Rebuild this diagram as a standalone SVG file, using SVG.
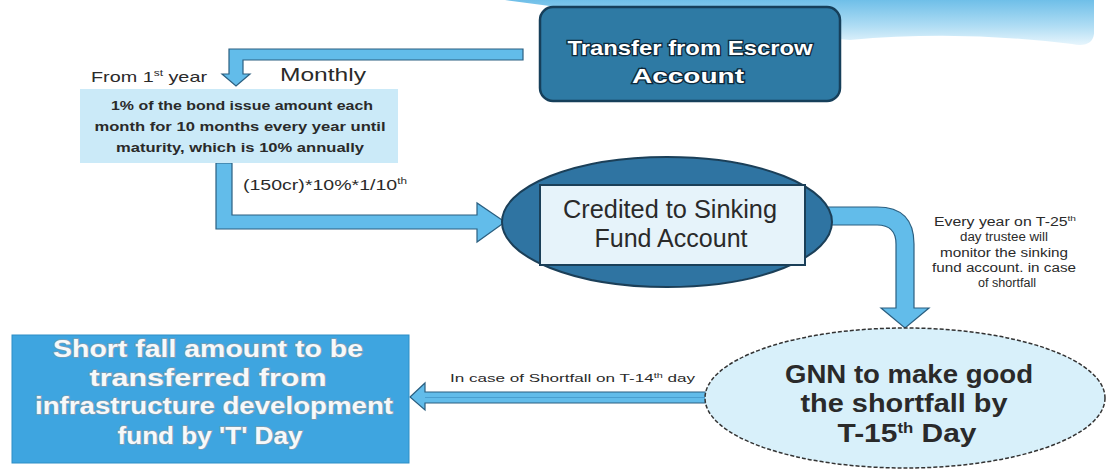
<svg xmlns="http://www.w3.org/2000/svg" width="1110" height="469" viewBox="0 0 1110 469">
<defs>
<linearGradient id="sw" x1="0" y1="0" x2="0" y2="1">
<stop offset="0" stop-color="#5fb8e6"/>
<stop offset="0.6" stop-color="#a9daf3"/>
<stop offset="1" stop-color="#e4f4fc"/>
</linearGradient>
<style>
.conn{fill:#62bcea;stroke:#2b5f80;stroke-width:1.2;stroke-linejoin:miter}
.lbl{font-family:"Liberation Sans",Arial,sans-serif;fill:#2a2a2a}
.wt{font-family:"Liberation Sans",Arial,sans-serif;font-weight:bold;text-anchor:middle}
</style>
</defs>
<rect width="1110" height="469" fill="#ffffff"/>
<!-- decorative swoosh -->
<path d="M505 0 H1094 V34 Q1092 48 1072 44 Q960 30 850 40 Q700 28 565 8 Z" fill="url(#sw)" opacity="0.9"/>

<g id="connectors">
<path class="conn" d="M523 49 H229 V74 H222 L236 86 L250 74 H243 V60 H523 Z"/>
<path class="conn" d="M216 163 V229 H477 V242 L505 222 L477 203 V215 H232 V163 Z"/>
<path class="conn" d="M820 207 H877 Q914 207 914 244 V308 H929 L905 328 L881 308 H896 V244 Q896 225 877 225 H820 Z"/>
<path class="conn" d="M715 392 H425 V383 L410 397 L425 410 V403 H715 Z"/>
<line x1="425" y1="397.5" x2="712" y2="397.5" stroke="#4a9fd0" stroke-width="1"/>
</g>

<g id="labels">
<text class="lbl" x="91" y="82" font-size="15" textLength="116" lengthAdjust="spacingAndGlyphs">From 1<tspan font-size="9" dy="-6">st</tspan><tspan dy="6"> year</tspan></text>
<text class="lbl" x="280" y="81" font-size="18" textLength="86" lengthAdjust="spacingAndGlyphs">Monthly</text>
<text class="lbl" x="243" y="190" font-size="15" textLength="164" lengthAdjust="spacingAndGlyphs">(150cr)*10%*1/10<tspan font-size="9" dy="-6">th</tspan></text>
<text class="lbl" x="450" y="382" font-size="11" textLength="245" lengthAdjust="spacingAndGlyphs">In case of Shortfall on T-14<tspan font-size="7" dy="-4">th</tspan><tspan dy="4"> day</tspan></text>
<g class="lbl" font-size="12.5">
<text x="934" y="226" textLength="142" lengthAdjust="spacingAndGlyphs">Every year on T-25<tspan font-size="8" dy="-5">th</tspan></text>
<text x="960" y="241" textLength="88" lengthAdjust="spacingAndGlyphs">day trustee will</text>
<text x="940" y="257" textLength="128" lengthAdjust="spacingAndGlyphs">monitor the sinking</text>
<text x="932" y="272" textLength="144" lengthAdjust="spacingAndGlyphs">fund account. in case</text>
<text x="978" y="287" textLength="58" lengthAdjust="spacingAndGlyphs">of shortfall</text>
</g>
</g>

<g id="escrow">
<rect x="540" y="7" width="300" height="94" rx="13" fill="#2e7aa4" stroke="#163f5a" stroke-width="2.5"/>
<g class="wt" font-size="21" fill="#ffffff" stroke="#0d2a3d" stroke-width="2.5" paint-order="stroke">
<text x="690" y="55" textLength="245" lengthAdjust="spacingAndGlyphs">Transfer from Escrow</text>
<text x="688" y="83" textLength="112" lengthAdjust="spacingAndGlyphs">Account</text>
</g>
</g>

<g id="monthly-box">
<rect x="80" y="89" width="318" height="74" fill="#cbeaf8"/>
<g class="lbl" font-size="12.5" font-weight="bold" text-anchor="middle">
<text x="242" y="110" textLength="262" lengthAdjust="spacingAndGlyphs">1% of the bond issue amount each</text>
<text x="240" y="131" textLength="291" lengthAdjust="spacingAndGlyphs">month for 10 months every year until</text>
<text x="240" y="152" textLength="248" lengthAdjust="spacingAndGlyphs">maturity, which is 10% annually</text>
</g>
</g>

<g id="sinking-fund">
<ellipse cx="667" cy="222" rx="165" ry="65" fill="#2f74a2" stroke="#1b3f58" stroke-width="2"/>
<rect x="540" y="185" width="265" height="80" fill="#e6f3fa" stroke="#1b3f58" stroke-width="2"/>
<g class="lbl" font-size="25" text-anchor="middle" fill="#333333">
<text x="670" y="218" textLength="214" lengthAdjust="spacingAndGlyphs">Credited to Sinking</text>
<text x="671" y="247" textLength="153" lengthAdjust="spacingAndGlyphs">Fund Account</text>
</g>
</g>

<g id="gnn">
<ellipse cx="905" cy="398" rx="200" ry="70" fill="#d8f0fa" stroke="#333333" stroke-width="1.5" stroke-dasharray="4 2"/>
<g class="lbl" font-size="25" font-weight="bold" text-anchor="middle" fill="#222222">
<text x="909" y="383" textLength="248" lengthAdjust="spacingAndGlyphs">GNN to make good</text>
<text x="904" y="412" textLength="207" lengthAdjust="spacingAndGlyphs">the shortfall by</text>
<text x="907" y="442" textLength="139" lengthAdjust="spacingAndGlyphs">T-15<tspan font-size="14" dy="-9">th</tspan><tspan dy="9"> Day</tspan></text>
</g>
</g>

<g id="shortfall-transfer">
<rect x="12" y="335" width="397" height="128" fill="#3ea5e0" stroke="#2d8ec6" stroke-width="1"/>
<g class="wt" font-size="23" fill="#f6f9fb" stroke="#7f9db0" stroke-width="1.4" paint-order="stroke">
<text x="208" y="357" textLength="310" lengthAdjust="spacingAndGlyphs">Short fall amount to be</text>
<text x="208" y="386" textLength="237" lengthAdjust="spacingAndGlyphs">transferred from</text>
<text x="214" y="414" textLength="358" lengthAdjust="spacingAndGlyphs">infrastructure development</text>
<text x="210" y="444" textLength="185" lengthAdjust="spacingAndGlyphs">fund by 'T' Day</text>
</g>
</g>
</svg>
